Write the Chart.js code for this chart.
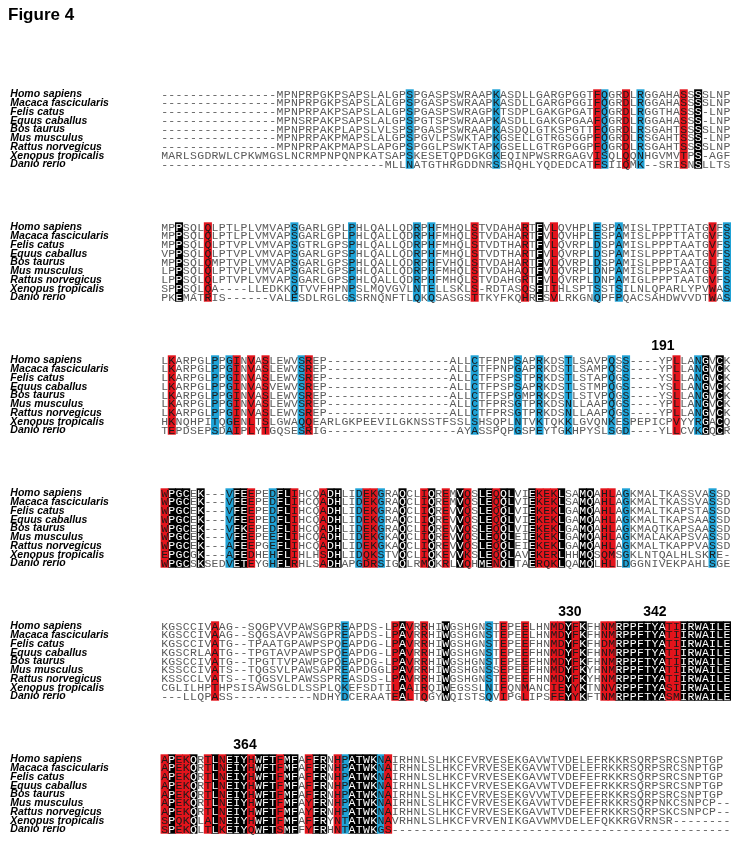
<!DOCTYPE html>
<html>
<head>
<meta charset="utf-8">
<script src="https://cdn.jsdelivr.net/npm/chart.js@4.4.1/dist/chart.umd.min.js"></script>
<style>
  html, body { margin: 0; padding: 0; background: #fff; }
  #wrap { position: relative; width: 739px; height: 841px; }
  #title { position: absolute; left: 8px; top: 5px; font: bold 17px "Liberation Sans", Arial, sans-serif; color: #000; }
</style>
</head>
<body>
<div id="wrap">
  <div id="title">Figure 4</div>
  <canvas id="aln" width="739" height="841"></canvas>
</div>
<script>
/* =======================
   DATA
======================= */
const species = [
  "Homo sapiens", "Macaca fascicularis", "Felis catus", "Equus caballus", "Bos taurus",
  "Mus musculus", "Rattus norvegicus", "Xenopus tropicalis", "Danio rerio"
];

const block1 = [
  "----------------MPNPRPGKPSAPSLALGPSPGASPSWRAAPKASDLLGARGPGGTFQGRDLRGGAHASSSSLNP",
  "----------------MPNPRPGKPSAPSLALGPSPGASPSWRAAPKASDLLGARGPGGIFQGRDLRGGAHASSSSLNP",
  "----------------MPNPRPAKPSAPSLALGPSPGASPSWRAGPKTSDPLGAKGPGATFQGRDLRGGTHASSS-LNP",
  "----------------MPNSRPAKPSAPSLALGPSPGTSPSWRAAPKASDLLGAKGPGAAFQGRDLRGGAHASSS-LNP",
  "----------------MPNPRPAKPLAPSLVLSPSPGASPSWRAAPKASDQLGTKSPGTTFQGRDLRSGAHTSSSSLNP",
  "----------------MPNPRPAKPMAPSLALGPSPGVLPSWKTAPKGSELLGTRGSGGPFQGRDLRSGAHTSSS-LNP",
  "----------------MPNPRPAKPMAPSLAPGPSPGGLPSWKTAPKGSELLGTRGPGGPFQGRDLRSGAHTSSSSLNP",
  "MARLSGDRWLCPKWMGSLNCRMPNPQNPKATSAPSKESETQPDGKGKEQINPWSRRGAGVISQLQQNHGVMVTPS-AGF",
  "-------------------------------MLLNATGTHRGDDNRSSHQHLYQDEDCATFSIIQMK--SRISNSLLTS"
];
const block2 = [
  "MPPSQLQLPTLPLVMVAPSGARLGPLPHLQALLQDRPHFMHQLSTVDAHARTFVLQVHPLESPAMISLTPPTTATGVFS",
  "MPPSQLQLPTLPLVMVAPSGARLGPLPHLQALLQDRPHFMHQLSTVDAHARTFVLQVHPLESPAMISLPPPTTATGVFS",
  "MPPSQLQLPTVPLVMVAPSGTRLGPSPHLQALLQDRPHFMHQLSTVDTHARTFVLQVRPLDSPAMISLPPPTAATGVFS",
  "VPPSQLQLPTVPLVMVAPSGARLGPSPHLQALLQDRPHFMHQLSTVDTHARTFVLQVRPLDSPAMISLPPPTAATGVFS",
  "MPPSQLQMPTVPLVMVAPSGARLGPSPHLQALLQDRPHFVHQLSTVDAHARTFVLQVRPLDSPAMISLPPPTAATGLFS",
  "LPPSQLQLPTVPLVMVAPSGARLGPSPHLQALLQDRPHFMHQLSTVDAHAQTFVLQVRPLDNPAMISLPPPSAATGVFS",
  "LPPSQLQLPTVPLVMVAPSGARLGPSPHLQALLQDRPHFMHQLSTVDAHGRTFVLQVRPLDNPAMIGLPPPTAATGVFS",
  "SPPSQLQA----LLEDKKQTVVFHPNPSLMQVGVLNTELLSKLS-RDTASQSFIIHLSPTSSTSILNLQPARLYPVWAS",
  "PKEMATRIS------VALESDLRGLGSSRNQNFTLQKQSASGSTTKYFKQHRESVLRKGNQPFPQACSAHDWVVDTWAS"
];
const block3 = [
  "LKARPGLPPGINVASLEWVSREP-----------------ALLCTFPNPSAPRKDSTLSAVPQSS----YPLLANGVCK",
  "LKARPGLPPGINVASLEWVSREP-----------------ALLCTFPNPGAPRKDSTLSAMPQSS----YPLLANGVCK",
  "LKARPGLPPGINVASLEWVSREP-----------------ALLCTFPSPSTPRKDSTLSTAPQGS----YSLLANGVCK",
  "LKARPGLPPGINVASVEWVSREP-----------------ALLCTFPSPSAPRKDSTLSTMPQGS----YSLLANGVCK",
  "LKARPGLPPGINVASLEWVSREP-----------------ALLCTFPSPGMPRKDSTLSTVPQGS----YSLLANGVCK",
  "LKARPGLPPGINVASLEWVSREP-----------------ALLCTFPRSGTPRKDSNLLAAPQGS----YPLLANGVCK",
  "LKARPGLPPGINVASLEWVSREP-----------------ALLCTFPRSGTPRKDSNLLAAPQGS----YPLLANGVCK",
  "HKNQHPITQGENLTSLGWAQQEARLGKPEEVILGKNSSTFSSLSHSQPLNTVKTQKKLGVQNKESPEPICPVYYRGACQ",
  "TEPDSEPSDAIPLYTGQSESRIG------------------AYASSPQPGSPEYTGKHPYSLSGD----YLLCVKGQCR"
];
const block4 = [
  "WPGCEK---VFEEPEDFLIHCQADHLIDEKGRAQCLIQREMVQSLEQQLVIEKEKLSAMQAHLAGKMALTKASSVASSD",
  "WPGCEK---VFEEPEDFLIHCQADHLIDEKGRAQCLIQREMVQSLEQQLVIEKEKLSAMQAHLAGKMALTKASSVASSD",
  "WPGCEK---VFEEPEDFLIHCQADHLIDEKGRAQCLIQREVVQSLEQQLVIEKEKLGAMQAHLAGKMALTKAPSTASSD",
  "WPGCEK---VFEEPEDFLIHCQADHLIDEKGRAQCLIQREVVQSLEQQLVIEKEKLGAMQAHLAGKMALTKAPSAASSD",
  "WPGCEK---VFKEPEDFLIHCQADHLIDEKGRAQCLIQREVVQSLEQQLVIEKEKLGAMQAHLAGKMAQTKAPSAASSD",
  "WPGCEK---VFEEPEEFLIHCQADHLIDEKGKAQCLIQREVVQSLEQQLEIEKEKLGAMQAHLAGKMALAKAPSVASSD",
  "WPGCEK---AFEEPGEFLIHCQADHLIDEKGKAQCLIQREVVQSLEQQLEIEKEKLGAMQAHLAGKMALTKAPPVASSD",
  "EPGCGK---AFEDHEHFLIHLHSDHLIDQKSTVQCLIQKEVVKSLEQQLAVEKERLHHMQSQMSGKLNTQALHLSKRE-",
  "WPGCSKSEDVETEYGHFLRHLSADHAPGDRSIGQLRMQKRLVQHMENQLTAERQKLQAMQLHLLDGGNIVEKPAHLSGE"
];
const block5 = [
  "KGSCCIVAAG--SQGPVVPAWSGPREAPDS-LPAVRRHIWGSHGNSTEPEELHNMDYFKFHNMRPPFTYATIIRWAILE",
  "KGSCCIVAAG--SQGSAVPAWSGPREAPDS-LPAVRRHIWGSHGNSTEPEELHNMDYFKFHNMRPPFTYATIIRWAILE",
  "KGSCCIVATG--TPAATGPAWPSPQEAPDG-LPAVRRHIWGSHGNSTEPEEFHNMDYFKFHDMRPPFTYATIIRWAILE",
  "KGSCRLAATG--TPGTAVPAWPSPQEAPDG-LPAVRRHIWGSHGNSTEPEEFHNMDYFKFHNMRPPFTYATIIRWAILE",
  "KGSCCIVATG--TPGTTVPAWPGPQEAPDG-LPAVRRHIWGSHGNSTEPEEFHNMDYFKFHNMRPPFTYATIIRWAILE",
  "KSSCCIVATS--TQGSVLPAWSAPREAPDGGLPAVRRHIWGSHGNSSEPEEFHNMDYFKYHNMRPPFTYATIIRWAILE",
  "KSSCCLVATS--TQGSVLPAWSSPREASDS-LPAVRRHIWGSHGNSTEPEEFHNMDYFKYHNMRPPFTYATIIRWAILE",
  "CGLILHPTHPSISAWSGLDLSSPLQKEFSDTILAAIRQIWEGSSLNIFQNMANCIEYYKTNNVRPPFTYASIIRWAILE",
  "---LLQPASS-----------NDHYDCERAATEALTQGYWQISTSQVIPGLIPSFEYYKFTNMRPPFTYASMIRWAILE"
];
const block6 = [
  "APEKQRTLNEIYHWFTFMFAFFRNHPATWKNAIRHNLSLHKCFVRVESEKGAVWTVDELEFRKKRSQRPSRCSNPTGP",
  "APEKQRTLNEIYHWFTFMFAFFRNHPATWKNAIRHNLSLHKCFVRVESEKGAVWTVDELEFRKKRSQRPSRCSNPTGP",
  "APEKQRTLNEIYHWFTFMFAFFRNHPATWKNAIRHNLSLHKCFVRVESEKGAVWTVDEFEFRKKRSQRPSRCSNPTGP",
  "APEKQRTLNEIYHWFTFMFAFFRNHPATWKNAIRHNLSLHKCFVRVESEKGAVWTVDEFEFRKKRSQRPSRCSNPTGP",
  "APEKQRTLNEIYHWFTFMFAFFRNHPATWKNAIRHNLSLHKCFVRVESEKGVVWTVDEFEFRKKRSQRPSRCSNPTGP",
  "APEKQRTLNEIYHWFTFMFAYFRNHPATWKNAIRHNLSLHKCFVRVESEKGAVWTVDEFEFRKKRSQRPNKCSNPCP--",
  "APEKQRTLNEIYHWFTFMFAYFRNHPATWKNAIRHNLSLHKCFVRVESEKGAVWTVDEFEFRKKRSQRPSKCSNPCP--",
  "SPQKQLALNEIYHWFTFMFAFFRYNTATWKNAVRHNLSLHKCFVRVENIKGAVWMVDELEFQKKRGVRNSR--------",
  "SPEKQLTLKEIYQWFTSMFFYFRHNTATWKGS-----------------------------------------------"
];
const blocks = [block1, block2, block3, block4, block5, block6];

// highlighted columns per block (0-based alignment column)
const redCols = [
  [60, 64, 72],
  [6, 43, 50, 54, 76],
  [1, 10, 12, 14, 20, 71],
  [0, 12, 18, 22, 28, 29, 36, 39, 42, 46, 52, 53, 54, 61, 62],
  [7, 32, 34, 36, 47, 50, 54, 55, 57, 61, 62, 70, 71],
  [0, 2, 3, 6, 8, 12, 16, 20, 24, 31]
];
const blueCols = [
  [34, 46, 61, 66],
  [18, 26, 35, 37, 60, 63, 78],
  [7, 9, 19, 43, 49, 52, 56, 62, 64, 74],
  [9, 15, 27, 30, 64, 76],
  [25, 45],
  [25, 30]
];
const blackCols = [
  [74],
  [2, 52],
  [75, 77],
  [1, 2, 3, 5, 10, 11, 16, 17, 23, 24, 33, 37, 41, 44, 45, 47, 48, 51, 55, 58, 59],
  [33, 39, 56, 58, 63, 64, 65, 66, 67, 68, 69, 72, 73, 74, 75, 76, 77, 78],
  [1, 4, 7, 9, 10, 11, 13, 14, 15, 17, 18, 21, 22, 26, 27, 28, 29]
];

// residue numbers shown above blocks
const markText = ["191", "330", "342", "364"];
const markBlock = [2, 4, 4, 5];
const markCol = [69.6, 56.7, 68.5, 11.65];

/* =======================
   LAYOUT
======================= */
const COLW = 7.21;
const BLOCK_STEP = 15.2;   // rows between block starts
const RED = "#e3141c";
const BLUE = "#1fa2d6";

function rowY(b, r) {
  return b * BLOCK_STEP + r;
}

function colBars(colsPerBlock) {
  const out = [];
  colsPerBlock.forEach((cols, b) => {
    cols.forEach(c => {
      out.push({ x: c + 0.5, y: [rowY(b, -0.5), rowY(b, species.length - 0.5)] });
    });
  });
  return out;
}

/* =======================
   TEXT PLUGIN
======================= */
const alignmentText = {
  id: "alignmentText",
  afterDatasetsDraw(chart) {
    const { ctx, scales: { x, y } } = chart;
    ctx.save();
    ctx.textBaseline = "middle";

    blocks.forEach((rows, b) => {
      const red = new Set(redCols[b]);
      const blue = new Set(blueCols[b]);
      const black = new Set(blackCols[b]);

      rows.forEach((seq, r) => {
        const py = y.getPixelForValue(rowY(b, r));

        // species label
        ctx.font = 'italic bold 10.5px "Liberation Sans", Arial, sans-serif';
        ctx.textAlign = "left";
        ctx.fillStyle = "#000";
        ctx.fillText(species[r], x.getPixelForValue(-20.9), py + 0.5);

        // residues
        ctx.font = '11.5px "Liberation Mono", "Courier New", monospace';
        ctx.textAlign = "center";
        for (let c = 0; c < seq.length; c++) {
          const ch = seq[c];
          if (ch === " ") continue;
          if (black.has(c)) ctx.fillStyle = "#fff";
          else if (red.has(c) || blue.has(c)) ctx.fillStyle = "#1a1a1a";
          else ctx.fillStyle = "#5a5a5a";
          ctx.fillText(ch, x.getPixelForValue(c + 0.5), py + 0.5);
        }
      });
    });

    // residue numbers
    ctx.font = 'bold 14px "Liberation Sans", Arial, sans-serif';
    ctx.textAlign = "center";
    ctx.fillStyle = "#000";
    markText.forEach((t, i) => {
      ctx.fillText(t, x.getPixelForValue(markCol[i]), y.getPixelForValue(rowY(markBlock[i], -1.55)));
    });
    ctx.restore();
  }
};

/* =======================
   CHART
======================= */
const barStyle = {
  grouped: false,
  barThickness: COLW + 0.2,
  borderWidth: 0,
  borderSkipped: false
};

new Chart(document.getElementById("aln"), {
  type: "bar",
  data: {
    datasets: [
      Object.assign({ label: "conserved", data: colBars(redCols), backgroundColor: RED }, barStyle),
      Object.assign({ label: "similar", data: colBars(blueCols), backgroundColor: BLUE }, barStyle),
      Object.assign({ label: "identical", data: colBars(blackCols), backgroundColor: "#000" }, barStyle)
    ]
  },
  options: {
    responsive: false,
    animation: false,
    layout: { padding: 0 },
    plugins: {
      legend: { display: false },
      tooltip: { enabled: false }
    },
    scales: {
      x: { type: "linear", display: false, offset: false, min: -161 / COLW, max: (739 - 161) / COLW },
      y: { type: "linear", display: false, offset: false, reverse: true, min: -94 / 8.75, max: (841 - 94) / 8.75 }
    }
  },
  plugins: [alignmentText]
});
</script>
</body>
</html>
